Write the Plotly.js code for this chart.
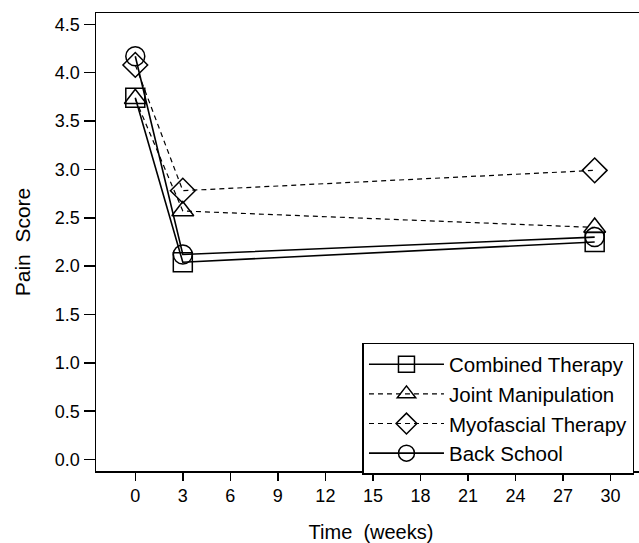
<!DOCTYPE html>
<html>
<head>
<meta charset="utf-8">
<script src="https://cdn.plot.ly/plotly-3.0.1.min.js"></script>
<style>
html,body{margin:0;padding:0;overflow:hidden;background:#fff;}
#chart{width:660px;height:543px;}
</style>
</head>
<body>
<div id="chart"></div>
<script>
const weeks = [0, 3, 29];
const combinedTherapy = [3.74, 2.04, 2.25];
const jointManipulation = [3.73, 2.57, 2.40];
const myofascialTherapy = [4.08, 2.78, 2.99];
const backSchool = [4.17, 2.12, 2.30];
const seriesNames = ['Combined Therapy', 'Joint Manipulation', 'Myofascial Therapy', 'Back School'];
const xTicks = [0, 3, 6, 9, 12, 15, 18, 21, 24, 27, 30];
const yTicks = [0, 0.5, 1, 1.5, 2, 2.5, 3, 3.5, 4, 4.5];

const FONT = 'Liberation Sans, Arial, Helvetica, sans-serif';
function mk(name, y, symbol, dash, lw) {
  return {
    x: weeks, y: y, name: name, type: 'scatter', mode: 'lines+markers',
    line: {color: '#000', width: lw, dash: dash},
    marker: {symbol: symbol, size: 19, color: '#000', line: {color: '#000', width: 1.5}}
  };
}
const data = [
  mk(seriesNames[0], combinedTherapy, 'square-open', 'solid', 1.6),
  mk(seriesNames[1], jointManipulation, 'triangle-up-open', '5px,4px', 1.2),
  mk(seriesNames[2], myofascialTherapy, 'diamond-open', '5px,4px', 1.2),
  mk(seriesNames[3], backSchool, 'circle-open', 'solid', 1.6)
];
const layout = {
  width: 660, height: 543,
  margin: {l: 96, r: 14, t: 13, b: 72, pad: 0},
  paper_bgcolor: '#fff', plot_bgcolor: '#fff',
  font: {family: FONT, color: '#000', size: 18},
  showlegend: true,
  legend: {
    x: 0.4845, y: 0.2797, xanchor: 'left', yanchor: 'top',
    bordercolor: '#000', borderwidth: 1.5, bgcolor: '#fff',
    font: {family: FONT, size: 20.5, color: '#000'},
    itemwidth: 75, tracegroupgap: 0
  },
  xaxis: {
    range: [-2.48, 32.24], tickvals: xTicks, ticktext: xTicks.map(String),
    ticks: 'outside', ticklen: 8, tickwidth: 1.5, tickcolor: '#000',
    showline: true, linecolor: '#000', linewidth: 1.5, mirror: true,
    showgrid: false, zeroline: false,
    tickfont: {family: FONT, size: 18},
    title: {text: 'Time  (weeks)', font: {family: FONT, size: 20}, standoff: 20}
  },
  yaxis: {
    range: [-0.118, 4.617], tickvals: yTicks, ticktext: yTicks.map(v => v.toFixed(1)),
    ticks: 'outside', ticklen: 11, tickwidth: 1.5, tickcolor: '#000',
    showline: true, linecolor: '#000', linewidth: 1.5, mirror: true,
    showgrid: false, zeroline: false,
    tickfont: {family: FONT, size: 18},
    title: {text: 'Pain  Score', font: {family: FONT, size: 21}, standoff: 18}
  }
};
Plotly.newPlot('chart', data, layout, {displayModeBar: false, staticPlot: true});
</script>
</body>
</html>
